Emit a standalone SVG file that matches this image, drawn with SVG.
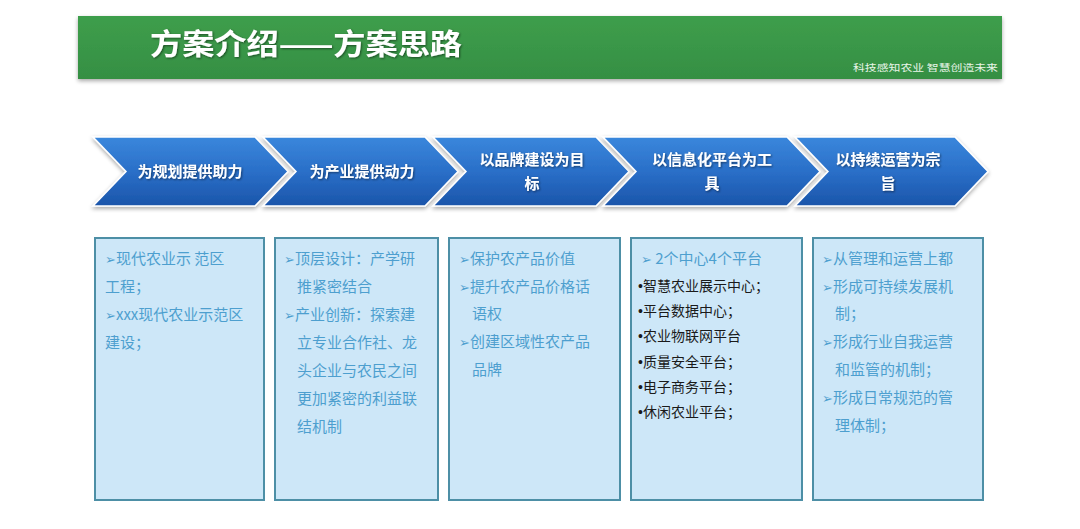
<svg xmlns="http://www.w3.org/2000/svg" width="1080" height="529" viewBox="0 0 1080 529">
<defs>
<linearGradient id="gBar" x1="0" y1="0" x2="0" y2="1">
<stop offset="0" stop-color="#3e9e4c"/>
<stop offset="1" stop-color="#358f43"/>
</linearGradient>
<linearGradient id="gChev" x1="0" y1="0" x2="0" y2="1">
<stop offset="0" stop-color="#3a87dc"/>
<stop offset="0.5" stop-color="#2a6fc8"/>
<stop offset="1" stop-color="#1b55aa"/>
</linearGradient>
<filter id="sh" x="-10%" y="-20%" width="120%" height="150%">
<feGaussianBlur in="SourceAlpha" stdDeviation="2"/>
<feOffset dx="0" dy="2"/>
<feComponentTransfer><feFuncA type="linear" slope="0.35"/></feComponentTransfer>
<feMerge><feMergeNode/><feMergeNode in="SourceGraphic"/></feMerge>
</filter>
<filter id="tsh" x="-10%" y="-30%" width="120%" height="160%">
<feGaussianBlur in="SourceAlpha" stdDeviation="0.8"/>
<feOffset dx="0.8" dy="1"/>
<feComponentTransfer><feFuncA type="linear" slope="0.5"/></feComponentTransfer>
<feMerge><feMergeNode/><feMergeNode in="SourceGraphic"/></feMerge>
</filter>
</defs>
<style>
.chev{fill:url(#gChev);stroke:#ffffff;stroke-width:1.5;filter:url(#sh)}
.ct{font-family:"Noto Sans CJK SC","Noto Sans",sans-serif;font-size:15px;font-weight:bold;fill:#ffffff;text-anchor:middle}
.box{fill:#cde7f8;stroke:#4d8fa6;stroke-width:2}
.bt{font-family:"Noto Sans CJK SC","DejaVu Sans",sans-serif;font-size:15px;fill:#4d9fcf}
.bk{font-family:"Noto Sans CJK SC","DejaVu Sans",sans-serif;font-size:14px;fill:#1a1a1a}
.ar{font-family:"DejaVu Sans",sans-serif;font-size:13px}
.dot{font-family:"Liberation Sans",sans-serif}
</style>
<rect width="1080" height="529" fill="#ffffff"/>
<g id="header">
<rect x="78" y="16" width="924" height="63" fill="url(#gBar)" filter="url(#sh)"/>
<text x="150" y="55" font-family="Noto Sans CJK SC,sans-serif" font-size="29" font-weight="bold" fill="#ffffff" textLength="312" lengthAdjust="spacingAndGlyphs" filter="url(#tsh)">方案介绍——方案思路</text>
<text x="853" y="71" font-family="Noto Sans CJK SC,sans-serif" font-size="9.5" fill="#e8f5e8" textLength="145" lengthAdjust="spacingAndGlyphs">科技感知农业  智慧创造未来</text>
</g>
<g id="step1">
<polygon class="chev" points="93,137 255,137 288,171.5 255,206 93,206 126,171.5"/>
<text class="ct" x="190" y="177" filter="url(#tsh)">为规划提供助力</text>
</g>
<g id="step2">
<polygon class="chev" points="263,137 425,137 458,171.5 425,206 263,206 296,171.5"/>
<text class="ct" x="362" y="177" filter="url(#tsh)">为产业提供动力</text>
</g>
<g id="step3">
<polygon class="chev" points="433,137 596,137 629,171.5 596,206 433,206 466,171.5"/>
<text class="ct" x="532" y="165" filter="url(#tsh)">以品牌建设为目</text>
<text class="ct" x="532" y="189" filter="url(#tsh)">标</text>
</g>
<g id="step4">
<polygon class="chev" points="603,137 787,137 820,171.5 787,206 603,206 636,171.5"/>
<text class="ct" x="712" y="165" filter="url(#tsh)">以信息化平台为工</text>
<text class="ct" x="712" y="189" filter="url(#tsh)">具</text>
</g>
<g id="step5">
<polygon class="chev" points="795,137 955,137 988,171.5 955,206 795,206 828,171.5"/>
<text class="ct" x="888" y="165" filter="url(#tsh)">以持续运营为宗</text>
<text class="ct" x="888" y="189" filter="url(#tsh)">旨</text>
</g>
<g id="box1">
<rect class="box" x="95" y="238" width="169" height="262"/>
<text class="bt" x="105" y="264"><tspan class="ar">➢</tspan>现代农业示 范区</text>
<text class="bt" x="105" y="292">工程；</text>
<text class="bt" x="105" y="320"><tspan class="ar">➢</tspan>xxx现代农业示范区</text>
<text class="bt" x="105" y="348">建设；</text>
</g>
<g id="box2">
<rect class="box" x="275" y="238" width="163" height="262"/>
<text class="bt" x="284" y="264"><tspan class="ar">➢</tspan>顶层设计：产学研</text>
<text class="bt" x="297" y="292">推紧密结合</text>
<text class="bt" x="284" y="320"><tspan class="ar">➢</tspan>产业创新：探索建</text>
<text class="bt" x="297" y="348">立专业合作社、龙</text>
<text class="bt" x="297" y="376">头企业与农民之间</text>
<text class="bt" x="297" y="404">更加紧密的利益联</text>
<text class="bt" x="297" y="432">结机制</text>
</g>
<g id="box3">
<rect class="box" x="449" y="238" width="171" height="262"/>
<text class="bt" x="459" y="264"><tspan class="ar">➢</tspan>保护农产品价值</text>
<text class="bt" x="459" y="292"><tspan class="ar">➢</tspan>提升农产品价格话</text>
<text class="bt" x="472" y="319">语权</text>
<text class="bt" x="459" y="347"><tspan class="ar">➢</tspan>创建区域性农产品</text>
<text class="bt" x="472" y="375">品牌</text>
</g>
<g id="box4">
<rect class="box" x="631" y="238" width="171" height="262"/>
<text class="bt" x="641" y="264"><tspan class="ar">➢</tspan> 2个中心4个平台</text>
<text class="bk" x="638" y="291"><tspan class="dot">•</tspan>智慧农业展示中心；</text>
<text class="bk" x="638" y="316"><tspan class="dot">•</tspan>平台数据中心；</text>
<text class="bk" x="638" y="341"><tspan class="dot">•</tspan>农业物联网平台</text>
<text class="bk" x="638" y="367"><tspan class="dot">•</tspan>质量安全平台；</text>
<text class="bk" x="638" y="392"><tspan class="dot">•</tspan>电子商务平台；</text>
<text class="bk" x="638" y="417"><tspan class="dot">•</tspan>休闲农业平台；</text>
</g>
<g id="box5">
<rect class="box" x="813" y="238" width="170" height="262"/>
<text class="bt" x="822" y="264"><tspan class="ar">➢</tspan>从管理和运营上都</text>
<text class="bt" x="822" y="292"><tspan class="ar">➢</tspan>形成可持续发展机</text>
<text class="bt" x="835" y="319">制；</text>
<text class="bt" x="822" y="347"><tspan class="ar">➢</tspan>形成行业自我运营</text>
<text class="bt" x="835" y="375">和监管的机制；</text>
<text class="bt" x="822" y="403"><tspan class="ar">➢</tspan>形成日常规范的管</text>
<text class="bt" x="835" y="431">理体制；</text>
</g>
<g id="connectors"></g>
</svg>
